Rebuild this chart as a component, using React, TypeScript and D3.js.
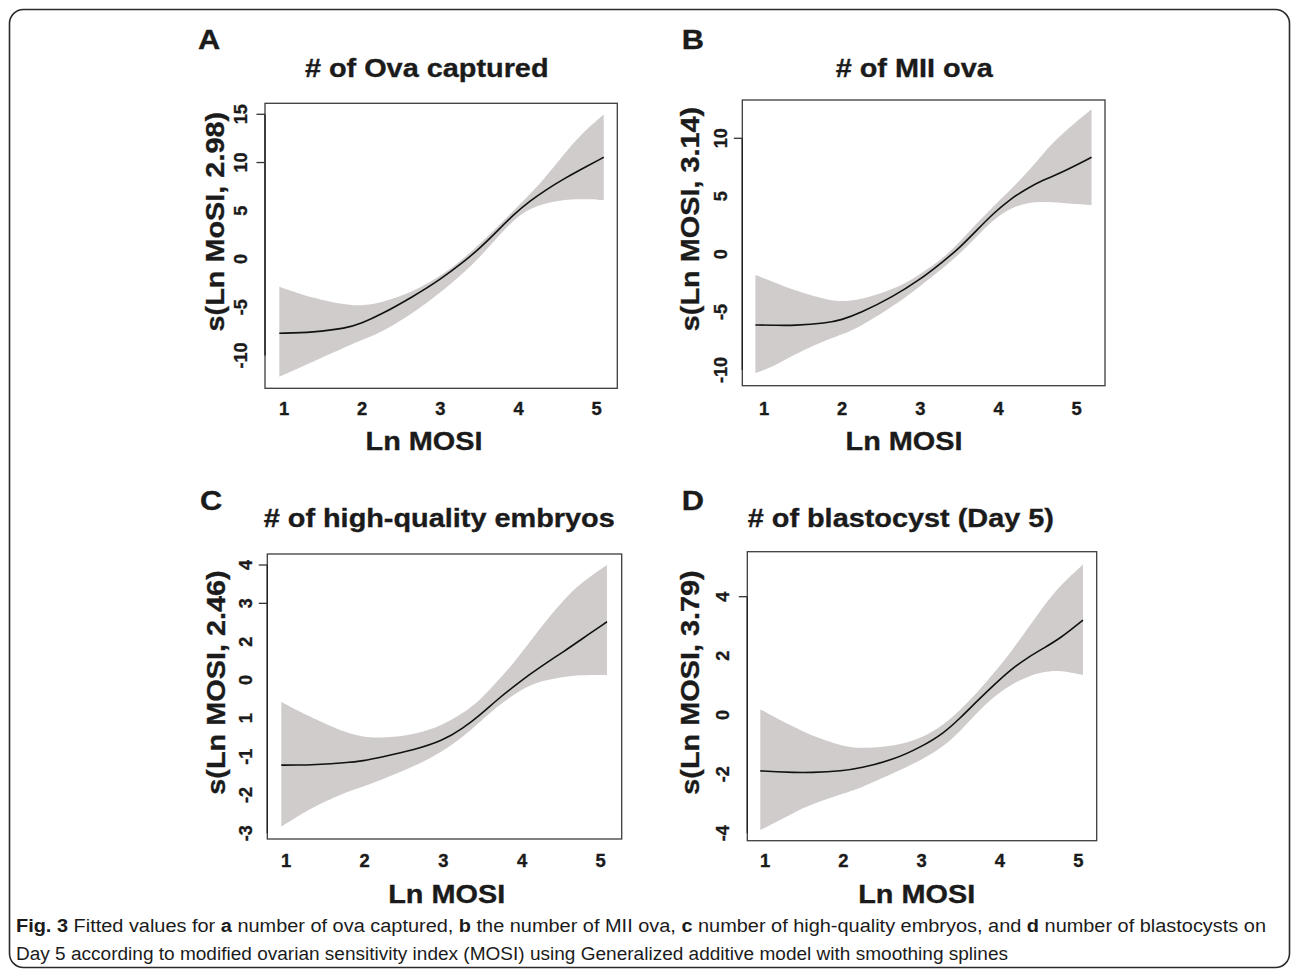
import React from "react";
import * as d3 from "d3";

// ---------- data ----------
const xTickValues = [1, 2, 3, 4, 5];

const aX = [0.94, 1.37, 1.8, 1.99, 2.23, 2.65, 2.99, 3.29, 3.51, 3.72, 3.93, 4.15, 4.36, 4.57, 4.79, 5.09];
const aFit = [-7.7, -7.6, -7.18, -6.67, -5.8, -3.9, -2.18, -0.36, 1.16, 2.83, 4.56, 6.04, 7.22, 8.26, 9.26, 10.54];
const aUpper = [-2.87, -4.07, -4.77, -4.84, -4.59, -3.39, -1.83, 0.0, 1.6, 3.25, 4.95, 6.75, 8.6, 10.78, 12.85, 14.99];
const aLower = [-12.19, -10.64, -9.08, -8.39, -7.7, -5.63, -3.56, -1.49, 0.24, 2.14, 4.04, 5.25, 5.84, 6.11, 6.22, 6.11];
const aYTicks = [15, 10, 5, 0, -5, -10];
const aYTickLabels = ["15", "10", "5", "0", "-5", "-10"];
const aTickMarks = [15, 10];

const bX = [0.89, 1.16, 1.375, 1.8, 1.99, 2.23, 2.65, 2.99, 3.29, 3.51, 3.72, 3.93, 4.15, 4.36, 4.57, 4.79, 5.19];
const bFit = [-6.11, -6.14, -6.17, -5.96, -5.68, -5.1, -3.67, -2.23, -0.65, 0.6, 2.05, 3.5, 4.75, 5.65, 6.4, 6.98, 8.36];
const bUpper = [-1.79, -2.51, -3.09, -3.95, -4.1, -3.95, -3.09, -1.79, -0.36, 1.08, 2.66, 4.1, 5.54, 6.98, 8.7, 10.28, 12.5];
const bLower = [-10.28, -9.56, -8.7, -7.4, -6.97, -6.25, -4.53, -2.8, -1.22, 0.08, 1.51, 2.95, 3.96, 4.44, 4.53, 4.44, 4.24];
const bYTicks = [10, 5, 0, -5, -10];
const bYTickLabels = ["10", "5", "0", "-5", "-10"];
const bTickMarks = [10];

const cX = [0.94, 1.14, 1.35, 1.77, 1.98, 2.2, 2.62, 2.99, 3.25, 3.47, 3.68, 3.89, 4.1, 4.31, 4.53, 4.74, 5.08];
const cFit = [-1.22, -1.22, -1.21, -1.16, -1.11, -1.02, -0.83, -0.59, -0.26, 0.09, 0.48, 0.82, 1.15, 1.45, 1.74, 2.04, 2.52];
const cUpper = [0.43, 0.21, 0.0, -0.39, -0.48, -0.52, -0.44, -0.18, 0.13, 0.48, 0.95, 1.43, 2.0, 2.56, 3.09, 3.52, 4.0];
const cLower = [-2.83, -2.57, -2.31, -1.92, -1.79, -1.61, -1.27, -0.87, -0.48, -0.09, 0.3, 0.61, 0.87, 1.0, 1.08, 1.13, 1.13];
const cYTicks = [4, 3, 2, 1, 0, -1, -2, -3];
const cYTickLabels = ["4", "3", "2", "0", "1", "-1", "-2", "-3"];
const cTickMarks = [4, 3];

const dX = [0.94, 1.15, 1.36, 1.57, 2.0, 2.21, 2.64, 3.0, 3.28, 3.49, 3.7, 3.92, 4.13, 4.34, 4.55, 4.77, 5.06];
const dFit = [-1.89, -1.92, -1.94, -1.95, -1.89, -1.8, -1.52, -1.07, -0.62, -0.11, 0.45, 1.01, 1.52, 1.92, 2.25, 2.59, 3.21];
const dUpper = [0.19, -0.11, -0.39, -0.68, -1.07, -1.13, -1.07, -0.79, -0.34, 0.17, 0.73, 1.41, 2.09, 2.87, 3.66, 4.39, 5.09];
const dLower = [-3.89, -3.61, -3.32, -3.04, -2.65, -2.48, -1.97, -1.52, -1.07, -0.56, 0.06, 0.62, 1.01, 1.29, 1.46, 1.52, 1.35];
const dYTicks = [4, 2, 0, -2, -4];
const dYTickLabels = ["4", "2", "0", "-2", "-4"];
const dTickMarks = [4];

const panelLetters = ["A", "B", "C", "D"];
const panelTitles = ["# of Ova captured", "# of MII ova", "# of high-quality embryos", "# of blastocyst (Day 5)"];
const yLabels = ["s(Ln MoSI, 2.98)", "s(Ln MOSI, 3.14)", "s(Ln MOSI, 2.46)", "s(Ln MOSI, 3.79)"];
const xLabel = "Ln MOSI";

// ---------- layout ----------
const FONT = "'Liberation Sans', Arial, Helvetica, sans-serif";
const INK = "#1b1b1b";
const SX = 1.11;

type Panel = {
  x: number[]; fit: number[]; upper: number[]; lower: number[];
  yTicks: number[]; yTickLabels: string[]; tickMarks: number[];
  box: [number, number, number, number];
  xRange: [number, number];
  yDomain: [number, number]; yRange: [number, number];
  letterPos: [number, number]; titlePos: [number, number];
  yLabPos: [number, number]; yTickX: number; xTickY: number; xLabPos: [number, number];
};

const panels: Panel[] = [
  {
    x: aX, fit: aFit, upper: aUpper, lower: aLower,
    yTicks: aYTicks, yTickLabels: aYTickLabels, tickMarks: aTickMarks,
    box: [265, 103.3, 617.3, 388.3], xRange: [284, 596.7],
    yDomain: [-10, 15], yRange: [355.5, 114.3],
    letterPos: [198, 48.5], titlePos: [426.7, 77], yLabPos: [223.5, 221.7],
    yTickX: 247, xTickY: 415, xLabPos: [424, 450],
  },
  {
    x: bX, fit: bFit, upper: bUpper, lower: bLower,
    yTicks: bYTicks, yTickLabels: bYTickLabels, tickMarks: bTickMarks,
    box: [742.3, 100, 1105, 385.7], xRange: [764, 1076.7],
    yDomain: [-10, 10], yRange: [370, 138.3],
    letterPos: [681.7, 48.5], titlePos: [914.2, 77], yLabPos: [698.5, 219],
    yTickX: 727, xTickY: 415, xLabPos: [904, 450],
  },
  {
    x: cX, fit: cFit, upper: cUpper, lower: cLower,
    yTicks: cYTicks, yTickLabels: cYTickLabels, tickMarks: cTickMarks,
    box: [267.3, 554, 621.7, 839], xRange: [286, 600.7],
    yDomain: [-3, 4], yRange: [833.3, 565],
    letterPos: [200, 510], titlePos: [439.2, 527], yLabPos: [225, 682.5],
    yTickX: 251.5, xTickY: 866.7, xLabPos: [446.7, 903.3],
  },
  {
    x: dX, fit: dFit, upper: dUpper, lower: dLower,
    yTicks: dYTicks, yTickLabels: dYTickLabels, tickMarks: dTickMarks,
    box: [747.3, 551.7, 1096.7, 840.7], xRange: [765, 1078.3],
    yDomain: [-4, 4], yRange: [833.3, 596.7],
    letterPos: [681.7, 510], titlePos: [900.8, 527], yLabPos: [698.5, 682.5],
    yTickX: 728.5, xTickY: 866.7, xLabPos: [916.7, 903.3],
  },
];

function Txt(props: {
  x: number; y: number; rot?: number; sx?: number; size: number;
  anchor?: string; weight?: string; children: React.ReactNode;
}) {
  const { x, y, rot = 0, sx = 1, size, anchor = "middle", weight = "bold", children } = props;
  return (
    <text
      transform={`translate(${x},${y}) rotate(${rot}) scale(${sx},1)`}
      textAnchor={anchor as any}
      fontFamily={FONT}
      fontWeight={weight}
      fontSize={size}
      fill={INK}
      stroke={INK}
      strokeWidth={0.35}
    >
      {children}
    </text>
  );
}

function PanelView({ p, i }: { p: Panel; i: number }) {
  const xs = d3.scaleLinear().domain([1, 5]).range(p.xRange);
  const ys = d3.scaleLinear().domain(p.yDomain).range(p.yRange);
  const idx = d3.range(p.x.length);
  const area = d3
    .area<number>()
    .x((k) => xs(p.x[k]))
    .y0((k) => ys(p.lower[k]))
    .y1((k) => ys(p.upper[k]))
    .curve(d3.curveBasis);
  const line = d3
    .line<number>()
    .x((k) => xs(p.x[k]))
    .y((k) => ys(p.fit[k]))
    .curve(d3.curveBasis);
  const [l, t, r, b] = p.box;
  const yExt = d3.extent(p.yTicks) as [number, number];
  return (
    <g>
      <path d={area(idx) || ""} fill="#d0cccc" stroke="none" />
      <path d={line(idx) || ""} fill="none" stroke="#111" strokeWidth={1.6} />
      <rect x={l} y={t} width={r - l} height={b - t} fill="none" stroke="#3c3c3c" strokeWidth={1.3} />
      <line x1={l} x2={l} y1={ys(yExt[0])} y2={ys(yExt[1])} stroke="#222" strokeWidth={1.4} />
      {p.tickMarks.map((v) => (
        <line key={v} x1={l - 8.5} x2={l} y1={ys(v)} y2={ys(v)} stroke="#333" strokeWidth={1.3} />
      ))}
      {p.yTicks.map((v, k) => (
        <Txt key={k} x={p.yTickX} y={ys(v)} rot={-90} size={18}>
          {p.yTickLabels[k]}
        </Txt>
      ))}
      {xTickValues.map((v) => (
        <Txt key={v} x={xs(v)} y={p.xTickY} size={17.5} sx={1.05}>
          {String(v)}
        </Txt>
      ))}
      <Txt x={p.xLabPos[0]} y={p.xLabPos[1]} size={26} sx={SX}>{xLabel}</Txt>
      <Txt x={p.yLabPos[0]} y={p.yLabPos[1]} rot={-90} size={26} sx={SX}>{yLabels[i]}</Txt>
      <Txt x={p.titlePos[0]} y={p.titlePos[1]} size={26} sx={SX}>{panelTitles[i]}</Txt>
      <Txt x={p.letterPos[0]} y={p.letterPos[1]} size={28} sx={1.1} anchor="start">{panelLetters[i]}</Txt>
    </g>
  );
}

export default function App() {
  const capFont = "'Liberation Sans Narrow', 'Liberation Sans', Arial, sans-serif";
  return (
    <svg
      width={1292}
      height={977}
      viewBox="0 0 1292 977"
      style={{ position: "absolute", left: 0, top: 0, background: "#fff" }}
    >
      <rect x={0} y={0} width={1292} height={977} fill="#fff" />
      <rect x={9.5} y={9.5} width={1280} height={958} rx={14} ry={14} fill="none" stroke="#2a2a2a" strokeWidth={1.6} />
      {panels.map((p, i) => (
        <PanelView key={i} p={p} i={i} />
      ))}
      <text x={16} y={932} fontFamily={capFont} fontSize={18} fill={INK} textLength={1250} lengthAdjust="spacingAndGlyphs">
        <tspan fontWeight="bold">Fig. 3</tspan>
        <tspan> Fitted values for </tspan>
        <tspan fontWeight="bold">a</tspan>
        <tspan> number of ova captured, </tspan>
        <tspan fontWeight="bold">b</tspan>
        <tspan> the number of MII ova, </tspan>
        <tspan fontWeight="bold">c</tspan>
        <tspan> number of high-quality embryos, and </tspan>
        <tspan fontWeight="bold">d</tspan>
        <tspan> number of blastocysts on</tspan>
      </text>
      <text x={16} y={960} fontFamily={capFont} fontSize={18} fill={INK} textLength={992} lengthAdjust="spacingAndGlyphs">
        Day 5 according to modified ovarian sensitivity index (MOSI) using Generalized additive model with smoothing splines
      </text>
    </svg>
  );
}
